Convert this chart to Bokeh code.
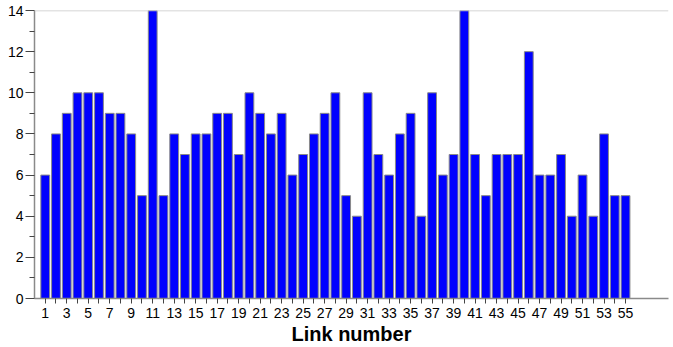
from bokeh.plotting import figure
from bokeh.models import FixedTicker, Span, Range1d
from bokeh.embed import file_html
from bokeh.resources import INLINE

links = list(range(1, 56))
counts = [6, 8, 9, 10, 10, 10, 9, 9, 8, 5, 14, 5, 8, 7, 8, 8, 9, 9, 7, 10,
          9, 8, 9, 6, 7, 8, 9, 10, 5, 4, 10, 7, 6, 8, 9, 4, 10, 6, 7, 14,
          7, 5, 7, 7, 7, 12, 6, 6, 7, 4, 6, 4, 8, 5, 5]
x_labels = list(range(1, 56, 2))
y_ticks = list(range(0, 15, 2))

p = figure(width=670, height=347, output_backend="svg", toolbar_location=None,
           x_range=Range1d(0, 59), y_range=Range1d(0, 14),
           min_border_left=34, min_border_top=10, min_border_right=2, min_border_bottom=49)
p.outline_line_color = None
p.grid.visible = False
p.background_fill_color = "white"

p.vbar(x=links, top=counts, width=0.82, bottom=0,
       fill_color="#0000ff", line_color="#8a8a8a", line_width=1)

p.add_layout(Span(location=14, dimension="width", line_color="#c8c8c8", line_width=1.5))

xa = p.xaxis[0]
xa.ticker = FixedTicker(ticks=x_labels, minor_ticks=[i for i in links if i % 2 == 0])
xa.axis_label = "Link number"
xa.axis_label_text_font = "Liberation Sans"
xa.axis_label_text_font_style = "bold"
xa.axis_label_text_font_size = "20px"
xa.axis_label_text_color = "black"
xa.axis_label_standoff = 2
xa.major_label_text_font = "Liberation Sans"
xa.major_label_text_font_size = "14px"
xa.major_label_text_color = "black"
xa.major_label_standoff = 4
xa.axis_line_color = "#8a8a8a"
xa.axis_line_width = 1.5
xa.major_tick_line_color = "#444444"
xa.minor_tick_line_color = "#444444"
xa.major_tick_out = 5
xa.major_tick_in = 0
xa.minor_tick_out = 5
xa.minor_tick_in = 0

ya = p.yaxis[0]
ya.ticker = FixedTicker(ticks=y_ticks, minor_ticks=[1, 3, 5, 7, 9, 11, 13])
ya.major_label_text_font = "Liberation Sans"
ya.major_label_text_font_size = "14px"
ya.major_label_text_color = "black"
ya.major_label_standoff = 2
ya.axis_line_color = "#8a8a8a"
ya.axis_line_width = 1.5
ya.major_tick_line_color = "#444444"
ya.minor_tick_line_color = "#444444"
ya.major_tick_out = 9
ya.major_tick_in = 0
ya.minor_tick_out = 5
ya.minor_tick_in = 0

open("out.html", "w").write(file_html(p, INLINE))
